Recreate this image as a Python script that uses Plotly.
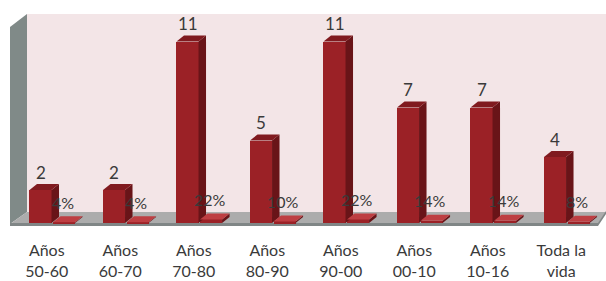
import plotly.graph_objects as go

# ---- data ----
categories = ["Años<br>50-60", "Años<br>60-70", "Años<br>70-80", "Años<br>80-90",
              "Años<br>90-00", "Años<br>00-10", "Años<br>10-16", "Toda la<br>vida"]
counts = [2, 2, 11, 5, 11, 7, 7, 4]
percents = [0.04, 0.04, 0.22, 0.10, 0.22, 0.14, 0.14, 0.08]
percent_labels = ["4%", "4%", "22%", "10%", "22%", "14%", "14%", "8%"]

# ---- style ----
W, H = 606, 281
ML, MR, MT, MB = 10, 8, 14, 55
YMIN, YMAX = -0.18, 12.67
plot_w = W - ML - MR
plot_h = H - MT - MB
ppx = plot_w / 8.0                 # pixels per category
ppy = plot_h / (YMAX - YMIN)       # pixels per value unit

FRONT = "rgb(155,33,38)"
SIDE = "rgb(105,20,24)"
TOP = "rgb(128,26,31)"
FLAT_TOP = "rgb(190,62,66)"
TXT = "#3a3a3a"
FONT = "Lato"

bw = 0.300
off1 = -0.085
off2 = 0.235
dx = 7.5 / ppx
dy = 6.0 / ppy

idx = list(range(len(categories)))
x1 = [i + off1 for i in idx]
x2 = [i + off2 for i in idx]

fig = go.Figure()

fig.add_trace(go.Bar(x=x1, y=counts, width=bw, marker=dict(color=FRONT, line=dict(width=0)),
                     showlegend=False, hoverinfo="skip"))
fig.add_trace(go.Bar(x=x2, y=percents, width=bw, marker=dict(color=FRONT, line=dict(width=0)),
                     showlegend=False, hoverinfo="skip"))

annotations = []
for i in idx:
    annotations.append(dict(x=x1[i], y=counts[i], xref="x", yref="y", text=str(counts[i]),
                            showarrow=False, yshift=18,
                            font=dict(family=FONT, size=17, color=TXT)))
    annotations.append(dict(x=x2[i] - 0.02, y=percents[i], xref="x", yref="y",
                            text=percent_labels[i], showarrow=False, yshift=20,
                            font=dict(family=FONT, size=16, color=TXT)))

def px(x):
    return (x - ML) / plot_w

def py(y):
    return (MT + plot_h - y) / plot_h

def ppath(pts):
    return "M " + " L ".join(f"{px(a):.5f},{py(b):.5f}" for a, b in pts) + " Z"

shapes = []
# back wall
shapes.append(dict(type="path", xref="paper", yref="paper", layer="below",
                   path=ppath([(27, 14), (606, 14), (606, 212), (27, 212)]),
                   fillcolor="rgb(243,229,231)", line=dict(width=0)))
# left wall
shapes.append(dict(type="path", xref="paper", yref="paper", layer="below",
                   path=ppath([(10, 27), (27, 14), (27, 212), (10, 224)]),
                   fillcolor="rgb(128,138,136)", line=dict(width=0)))
# floor top
shapes.append(dict(type="path", xref="paper", yref="paper", layer="below",
                   path=ppath([(10, 224), (598, 224), (606, 212), (27, 212)]),
                   fillcolor="rgb(172,172,172)", line=dict(width=0)))
# floor front edge
shapes.append(dict(type="path", xref="paper", yref="paper", layer="below",
                   path=ppath([(10, 223), (598, 223), (606, 211), (606, 214), (598, 226), (10, 226)]),
                   fillcolor="rgb(128,134,134)", line=dict(width=0)))

def box_faces(xc, v, side_col, top_col):
    l = xc - bw / 2
    r = xc + bw / 2
    side = f"M {r},0 L {r+dx},{dy} L {r+dx},{v+dy} L {r},{v} Z"
    top = f"M {l},{v} L {l+dx},{v+dy} L {r+dx},{v+dy} L {r},{v} Z"
    return [
        dict(type="path", xref="x", yref="y", layer="above", path=side,
             fillcolor=side_col, line=dict(width=0)),
        dict(type="path", xref="x", yref="y", layer="above", path=top,
             fillcolor=top_col, line=dict(width=0)),
    ]

for i in idx:
    shapes += box_faces(x1[i], counts[i], SIDE, TOP)
    shapes += box_faces(x2[i], percents[i], SIDE, FLAT_TOP)

fig.update_layout(
    width=W, height=H,
    margin=dict(l=ML, r=MR, t=MT, b=MB, autoexpand=False),
    paper_bgcolor="white", plot_bgcolor="rgba(0,0,0,0)",
    shapes=shapes, annotations=annotations, bargap=0, barmode="overlay",
    xaxis=dict(range=[-0.5, 7.5], tickvals=idx, ticktext=categories,
               showgrid=False, zeroline=False, showline=False, automargin=False,
               ticks="outside", ticklen=10, tickcolor="rgba(0,0,0,0)",
               tickfont=dict(family=FONT, size=16, color=TXT), fixedrange=True),
    yaxis=dict(range=[YMIN, YMAX], visible=False, showgrid=False, zeroline=False,
               fixedrange=True, automargin=False),
)

fig.write_html("out.html", config={"displayModeBar": False},
               post_script="document.body.style.margin='0';")
